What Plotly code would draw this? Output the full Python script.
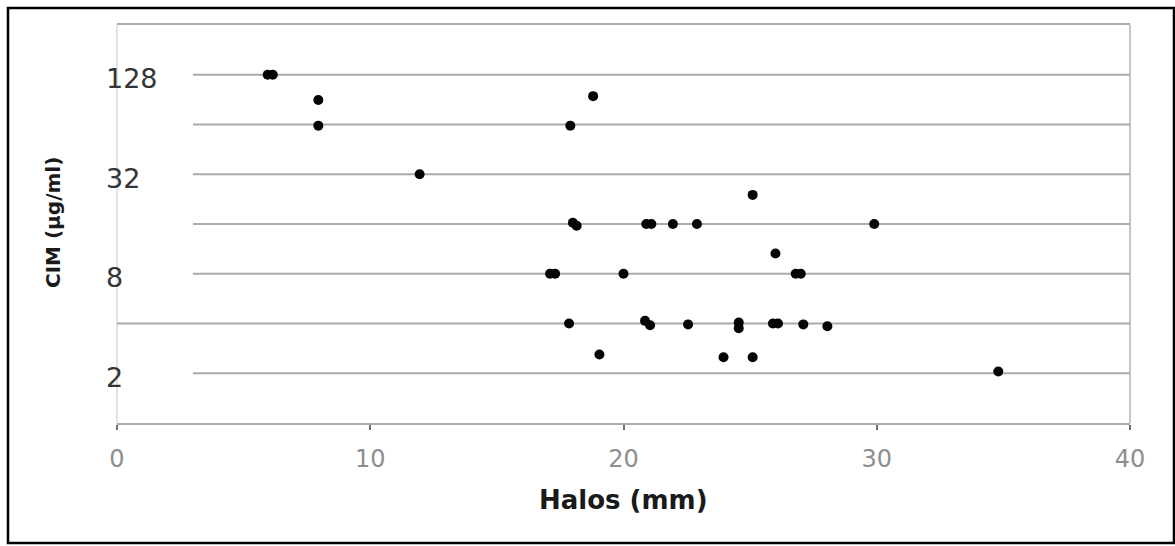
import math
import plotly.graph_objects as go

# Inhibition halo diameter (mm) against CIM (µg/ml)
halos = [5.95, 6.15, 7.95, 7.95, 11.95, 18.8, 17.9, 25.1, 18.0, 18.15,
         20.9, 21.1, 21.95, 22.9, 29.9, 26.0, 17.1, 17.3, 20.0, 26.8,
         27.0, 17.85, 20.85, 21.05, 22.55, 24.55, 24.55, 25.9, 26.1, 27.1,
         28.05, 19.05, 23.95, 25.1, 34.8]
cim = [128, 128, 90, 63, 32, 95, 63, 24, 16.3, 15.6,
       16, 16, 16, 16, 16, 10.6, 8, 8, 8, 8,
       8, 4, 4.15, 3.9, 3.95, 4.05, 3.75, 4, 4, 3.95,
       3.85, 2.6, 2.5, 2.5, 2.05]

x_ticks = [0, 10, 20, 30, 40]
y_labels = [2, 8, 32, 128]
grid_levels = [2, 4, 8, 16, 32, 64, 128]

W, H = 1175, 546
ML, MR, MT, MB = 117, 45, 25, 123
PW, PH = W - ML - MR, H - MT - MB


def px_to_paper_x(px):
    return (px - ML) / PW


def py_to_paper_y(py):
    return (H - MB - py) / PH


fig = go.Figure()
fig.add_trace(go.Scatter(
    x=halos, y=cim, mode="markers",
    marker=dict(color="#050505", size=10, symbol="circle"),
    showlegend=False, hoverinfo="x+y",
))

grid_color = "#a9a9b2"
for level in grid_levels:
    x_start = 0 if level == 4 else 3
    fig.add_shape(type="line", xref="x", yref="y", layer="below",
                  x0=x_start, x1=40, y0=level, y1=level,
                  line=dict(color=grid_color, width=2))

# plot-area border: faint left edge, grey right edge
fig.add_shape(type="line", xref="x domain", yref="y domain", x0=0, x1=0, y0=0, y1=1,
              line=dict(color="#dadade", width=1.5), layer="below")
fig.add_shape(type="line", xref="x domain", yref="y domain", x0=1, x1=1, y0=0, y1=1,
              line=dict(color="#b0b0b8", width=1.5), layer="below")

# outer black frame
fig.add_shape(type="rect", xref="paper", yref="paper",
              x0=px_to_paper_x(8), x1=px_to_paper_x(1174),
              y0=py_to_paper_y(543), y1=py_to_paper_y(8),
              line=dict(color="#000000", width=2.5), fillcolor="rgba(0,0,0,0)")

for v in y_labels:
    fig.add_annotation(x=px_to_paper_x(104), xref="paper", y=math.log10(v), yref="y",
                       text=str(v), showarrow=False, xanchor="left", yanchor="middle",
                       yshift=-4, font=dict(family="DejaVu Sans", size=27, color="#353535"))

fig.add_annotation(x=0.5, xref="paper", y=py_to_paper_y(500), yref="paper",
                   text="<b>Halos (mm)</b>", showarrow=False, xanchor="center",
                   yanchor="middle", font=dict(family="DejaVu Sans", size=26, color="#1a1a1a"))
fig.add_annotation(x=px_to_paper_x(53), xref="paper", y=py_to_paper_y(223), yref="paper",
                   text="<b>CIM (µg/ml)</b>", textangle=-90, showarrow=False,
                   xanchor="center", yanchor="middle",
                   font=dict(family="DejaVu Sans", size=20, color="#1a1a1a"))

fig.update_layout(
    width=W, height=H, autosize=False,
    margin=dict(l=ML, r=MR, t=MT, b=MB, pad=0),
    paper_bgcolor="white", plot_bgcolor="white",
    xaxis=dict(range=[0, 40], tickvals=x_ticks, ticks="outside", ticklen=5,
               tickcolor="#707070", tickwidth=1.5, showgrid=False, zeroline=False,
               showline=True, mirror=True, linecolor="#a9a9b2", linewidth=2,
               tickfont=dict(family="DejaVu Sans", size=24, color="#8e8e8e"),
               ticklabelstandoff=8),
    yaxis=dict(type="log", range=[0, math.log10(256)], showgrid=False,
               zeroline=False, showline=False, showticklabels=False, ticks=""),
)

fig.write_html("out.html")
